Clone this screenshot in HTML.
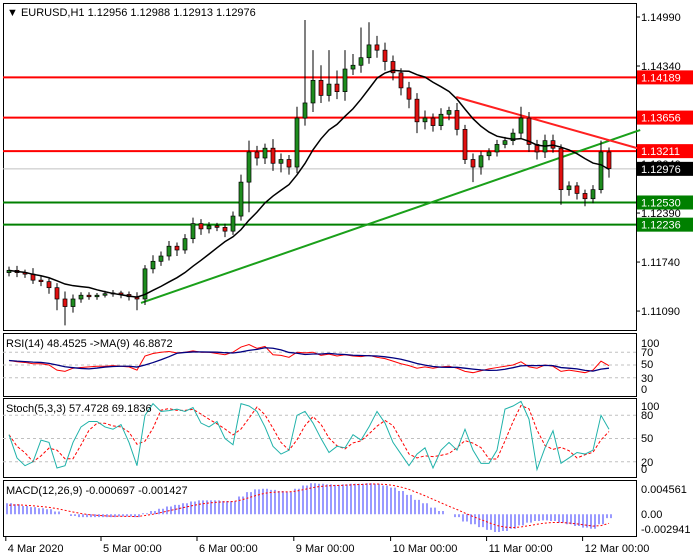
<!DOCTYPE html>
<html><head><meta charset="utf-8">
<style>
html,body{margin:0;padding:0;background:#fff;}
svg{display:block;font-family:"Liberation Sans",sans-serif;}
</style></head>
<body>
<svg id="chart" width="700" height="560" viewBox="0 0 700 560" xmlns="http://www.w3.org/2000/svg">
<rect x="0" y="0" width="700" height="560" fill="#fff"/>
<g id="main"></g>
<g id="rsi"></g>
<g id="stoch"></g>
<g id="macd"></g>
<g id="timeaxis"></g>
</svg>
<script>
const closes=[1.1163,1.1160,1.1158,1.1150,1.1148,1.1140,1.1125,1.1115,1.1125,1.1130,
1.1128,1.1130,1.1132,1.1133,1.1131,1.1128,1.1125,1.1165,1.1175,1.1182,
1.1195,1.1190,1.1205,1.1225,1.1218,1.1222,1.1220,1.1215,1.1235,1.1280,
1.1320,1.1312,1.1325,1.1305,1.1310,1.1300,1.1365,1.1385,1.1415,1.1395,
1.1410,1.1400,1.1430,1.1435,1.1445,1.1462,1.1455,1.1440,1.1425,1.1405,
1.1390,1.1360,1.1365,1.1355,1.1370,1.1375,1.1350,1.1310,1.1300,1.1315,
1.1320,1.1330,1.1335,1.1345,1.1365,1.1330,1.1320,1.1335,1.1325,1.1270,
1.1275,1.1265,1.1258,1.1270,1.1320,1.1298];
const firstOpen=1.1160;
const wickHi=[5,6,4,8,5,4,6,10,6,4,4,3,4,4,3,4,6,5,8,6,7,5,6,8,6,5,4,5,6,10,15,8,6,12,8,6,15,110,40,20,45,18,25,15,40,30,12,10,8,6,8,8,10,6,8,5,10,6,8,6,5,6,5,6,15,8,6,8,8,5,6,5,5,6,15,6];
const wickLo=[5,6,5,5,6,8,15,25,8,5,4,4,3,4,5,5,15,8,6,6,6,8,5,6,8,6,5,8,5,6,40,10,8,10,12,10,8,10,12,10,8,10,12,8,10,8,10,12,10,10,12,15,10,8,6,8,8,6,20,10,6,6,5,6,8,10,10,8,6,20,8,8,10,6,5,12];
const rsiVals=[57,55,54,52,52,50,42,40,45,46,47,48,48,49,48,47,42,64,68,70,71,69,70,72,70,70,68,66,70,78,82,76,79,66,65,62,70,69,70,65,67,64,66,64,63,65,62,60,56,52,49,45,47,45,47,48,45,40,38,41,44,46,48,50,55,47,45,50,48,40,42,40,38,42,56,49];
const stochVals=[55,25,15,20,48,45,12,15,45,65,72,72,65,62,68,45,15,80,95,85,86,88,85,90,70,65,72,50,42,95,92,85,65,40,30,35,80,85,70,50,32,40,38,55,48,65,85,70,45,30,15,30,38,12,35,45,35,62,35,18,18,35,88,92,98,75,10,38,60,18,25,32,30,35,80,62];
const macdVals=[2.0,1.8,1.5,1.3,1.1,0.9,0.5,0.0,-0.3,-0.5,-0.5,-0.5,-0.5,-0.5,-0.4,-0.4,-0.5,0.2,0.6,1.0,1.4,1.7,2.0,2.3,2.5,2.5,2.5,2.4,2.4,3.2,4.0,4.5,4.6,4.4,4.2,4.0,4.6,5.2,5.6,5.5,5.4,5.3,5.4,5.5,5.5,5.6,5.5,5.2,4.8,4.2,3.5,2.6,2.0,1.2,0.6,0.0,-0.5,-1.3,-1.8,-2.3,-2.8,-3.2,-3.0,-2.6,-2.0,-1.5,-1.2,-1.1,-1.2,-1.5,-1.8,-2.1,-2.4,-2.6,-1.8,-0.7];
const macdSignalStart=1.5;
const hLevels=[1.14189,1.13656,1.13211];
const supportLevels=[1.12530,1.12236];
const currentPrice=1.12976;
const priceTicks=["1.14990","1.14340","1.13690","1.13040","1.12390","1.11740","1.11090"];
const greenTrend=[[16.5,1.11197],[78.9,1.13491]];
const redTrend=[[55.9,1.13929],[78.9,1.13239]];
const timeLabels=["4 Mar 2020","5 Mar 00:00","6 Mar 00:00","9 Mar 00:00","10 Mar 00:00","11 Mar 00:00","12 Mar 00:00"];
const timeLabelBars=[-0.4,11.5,23.5,35.6,47.7,59.7,71.7];

const NS="http://www.w3.org/2000/svg";
function mk(parent,tag,attrs){const e=document.createElementNS(NS,tag);for(const k in attrs)e.setAttribute(k,attrs[k]);parent.appendChild(e);return e;}
const L=3,R=636;
const xI=i=>5+(i+0.5)*8;
const yP=p=>17+(1.1499-p)*7540;
const yR=v=>397-v*0.64;
const yS=v=>477.3-v*0.775;
const yM=v=>514.3-v*5.55;

const gm=document.getElementById('main');
let e=mk(gm,'rect',{x:L+0.5,y:3.5,width:R-L,height:327,fill:'#fff',stroke:'#000'});

priceTicks.forEach(t=>{const p=parseFloat(t);const y=yP(p);
 e=mk(gm,'line',{x1:R,x2:R+4,y1:y,y2:y,stroke:'#000'});
 
 e=mk(gm,'text',{x:641,y:y+4,'font-size':11,fill:'#000'});e.textContent=t;
 });
e=mk(gm,'line',{x1:L,x2:R,y1:yP(currentPrice),y2:yP(currentPrice),stroke:'#c0c0c0'});

hLevels.forEach(p=>{e=mk(gm,'line',{x1:L,x2:R,y1:yP(p),y2:yP(p),stroke:'#ff0000','stroke-width':2});
 });
supportLevels.forEach(p=>{e=mk(gm,'line',{x1:L,x2:R,y1:yP(p),y2:yP(p),stroke:'#008000','stroke-width':2});
 });
e=mk(gm,'line',{x1:xI(greenTrend[0][0]),y1:yP(greenTrend[0][1]),x2:xI(greenTrend[1][0]),y2:yP(greenTrend[1][1]),stroke:'#1aa01a','stroke-width':2});

e=mk(gm,'line',{x1:xI(redTrend[0][0]),y1:yP(redTrend[0][1]),x2:xI(redTrend[1][0]),y2:yP(redTrend[1][1]),stroke:'#ff2020','stroke-width':2});

closes.forEach((c,i)=>{const o=i?closes[i-1]:firstOpen;const hi=Math.max(o,c)+wickHi[i]/10000,lo=Math.min(o,c)-wickLo[i]/10000;const x=xI(i);
 const g=mk(gm,'g',{});
 mk(g,'line',{x1:x,x2:x,y1:yP(hi),y2:yP(lo),stroke:'#000'});
 const top=yP(Math.max(o,c)),h=Math.max(1,Math.abs(yP(o)-yP(c)));
 mk(g,'rect',{x:x-2,y:top,width:4,height:h,fill:c>=o?'#1e8c1e':'#e01010',stroke:'#000','stroke-width':0.7});});
let pts=closes.map((c,i)=>{const s=closes.slice(Math.max(0,i-10),i+1);return xI(i)+','+yP(s.reduce((a,b)=>a+b,0)/s.length);}).join(' ');
e=mk(gm,'polyline',{points:pts,fill:'none',stroke:'#000','stroke-width':1.5});

function box(p,col,txt){const y=yP(p);e=mk(gm,'rect',{x:637,y:y-7,width:56,height:14,fill:col});
 
 e=mk(gm,'text',{x:641,y:y+4,'font-size':11,fill:'#fff'});e.textContent=txt;
 }
hLevels.forEach(p=>box(p,'#ff0000',p.toFixed(5)));
supportLevels.forEach(p=>box(p,'#008000',p.toFixed(5)));
box(currentPrice,'#000',currentPrice.toFixed(5));
e=mk(gm,'text',{x:7,y:16,'font-size':11,fill:'#000'});e.textContent='▼ EURUSD,H1  1.12956 1.12988 1.12913 1.12976';


function frame(g,y0,y1,name){e=mk(g,'rect',{x:L+0.5,y:y0+0.5,width:R-L,height:y1-y0,fill:'#fff',stroke:'#000'});
 }
function dash(g,y){e=mk(g,'line',{x1:L,x2:R,y1:y,y2:y,stroke:'#c0c0c0','stroke-dasharray':'3,3'});
 }
function lab(g,x,y,t,name){e=mk(g,'text',{x:x,y:y,'font-size':11,fill:'#000'});e.textContent=t;
 }
function sma(a,n){return a.map((v,i)=>{const s=a.slice(Math.max(0,i-n+1),i+1);return s.reduce((x,y)=>x+y,0)/s.length;});}

const gr=document.getElementById('rsi');
frame(gr,333,396,'rsi-frame');[70,50,30].forEach(v=>dash(gr,yR(v)));
[["100",347],["70",356],["50",368],["30",382],["0",393]].forEach(a=>lab(gr,641,a[1],a[0],'rsi-scale-label'));
e=mk(gr,'polyline',{points:rsiVals.map((v,i)=>xI(i)+','+yR(v)).join(' '),fill:'none',stroke:'#ff0000'});

e=mk(gr,'polyline',{points:sma(rsiVals,5).map((v,i)=>xI(i)+','+yR(v)).join(' '),fill:'none',stroke:'#000080','stroke-width':1.3});

lab(gr,6,347,'RSI(14) 48.4525  ->MA(9) 46.8872','rsi-label');

const gs=document.getElementById('stoch');
frame(gs,398,477,'stoch-frame');[80,50,20].forEach(v=>dash(gs,yS(v)));
[["100",410],["80",419],["50",442],["20",466],["0",473]].forEach(a=>lab(gs,641,a[1],a[0],'stoch-scale-label'));
e=mk(gs,'polyline',{points:sma(stochVals,3).map((v,i)=>xI(i)+','+yS(v)).join(' '),fill:'none',stroke:'#ff0000','stroke-dasharray':'3,2'});

e=mk(gs,'polyline',{points:stochVals.map((v,i)=>xI(i)+','+yS(v)).join(' '),fill:'none',stroke:'#20b2aa'});

lab(gs,6,412,'Stoch(5,3,3) 57.4728 69.1836','stoch-label');

const gd=document.getElementById('macd');
frame(gd,480,536,'macd-frame');
[["0.004561",493],["0.00",518],["-0.002941",533]].forEach(a=>lab(gd,641,a[1],a[0],'macd-scale-label'));
macdVals.forEach((v,i)=>{[-2,2].forEach(dx=>{e=mk(gd,'line',{x1:xI(i)+dx,x2:xI(i)+dx,y1:yM(0),y2:yM(v),stroke:'#0000ff','stroke-width':0.8});
 });});
let sig=[],s=macdSignalStart;macdVals.forEach(v=>{s=s+(v-s)*0.3;sig.push(s);});
e=mk(gd,'polyline',{points:sig.map((v,i)=>xI(i)+','+yM(v)).join(' '),fill:'none',stroke:'#ff0000','stroke-dasharray':'2,2'});

lab(gd,6,494,'MACD(12,26,9) -0.000697 -0.001427','macd-label');

const gt=document.getElementById('timeaxis');
timeLabels.forEach((t,k)=>{const x=xI(timeLabelBars[k]);
 e=mk(gt,'line',{x1:x,x2:x,y1:536,y2:541,stroke:'#000'});
 
 lab(gt,x+2,552,t,'time-label');});
</script>
</body></html>
